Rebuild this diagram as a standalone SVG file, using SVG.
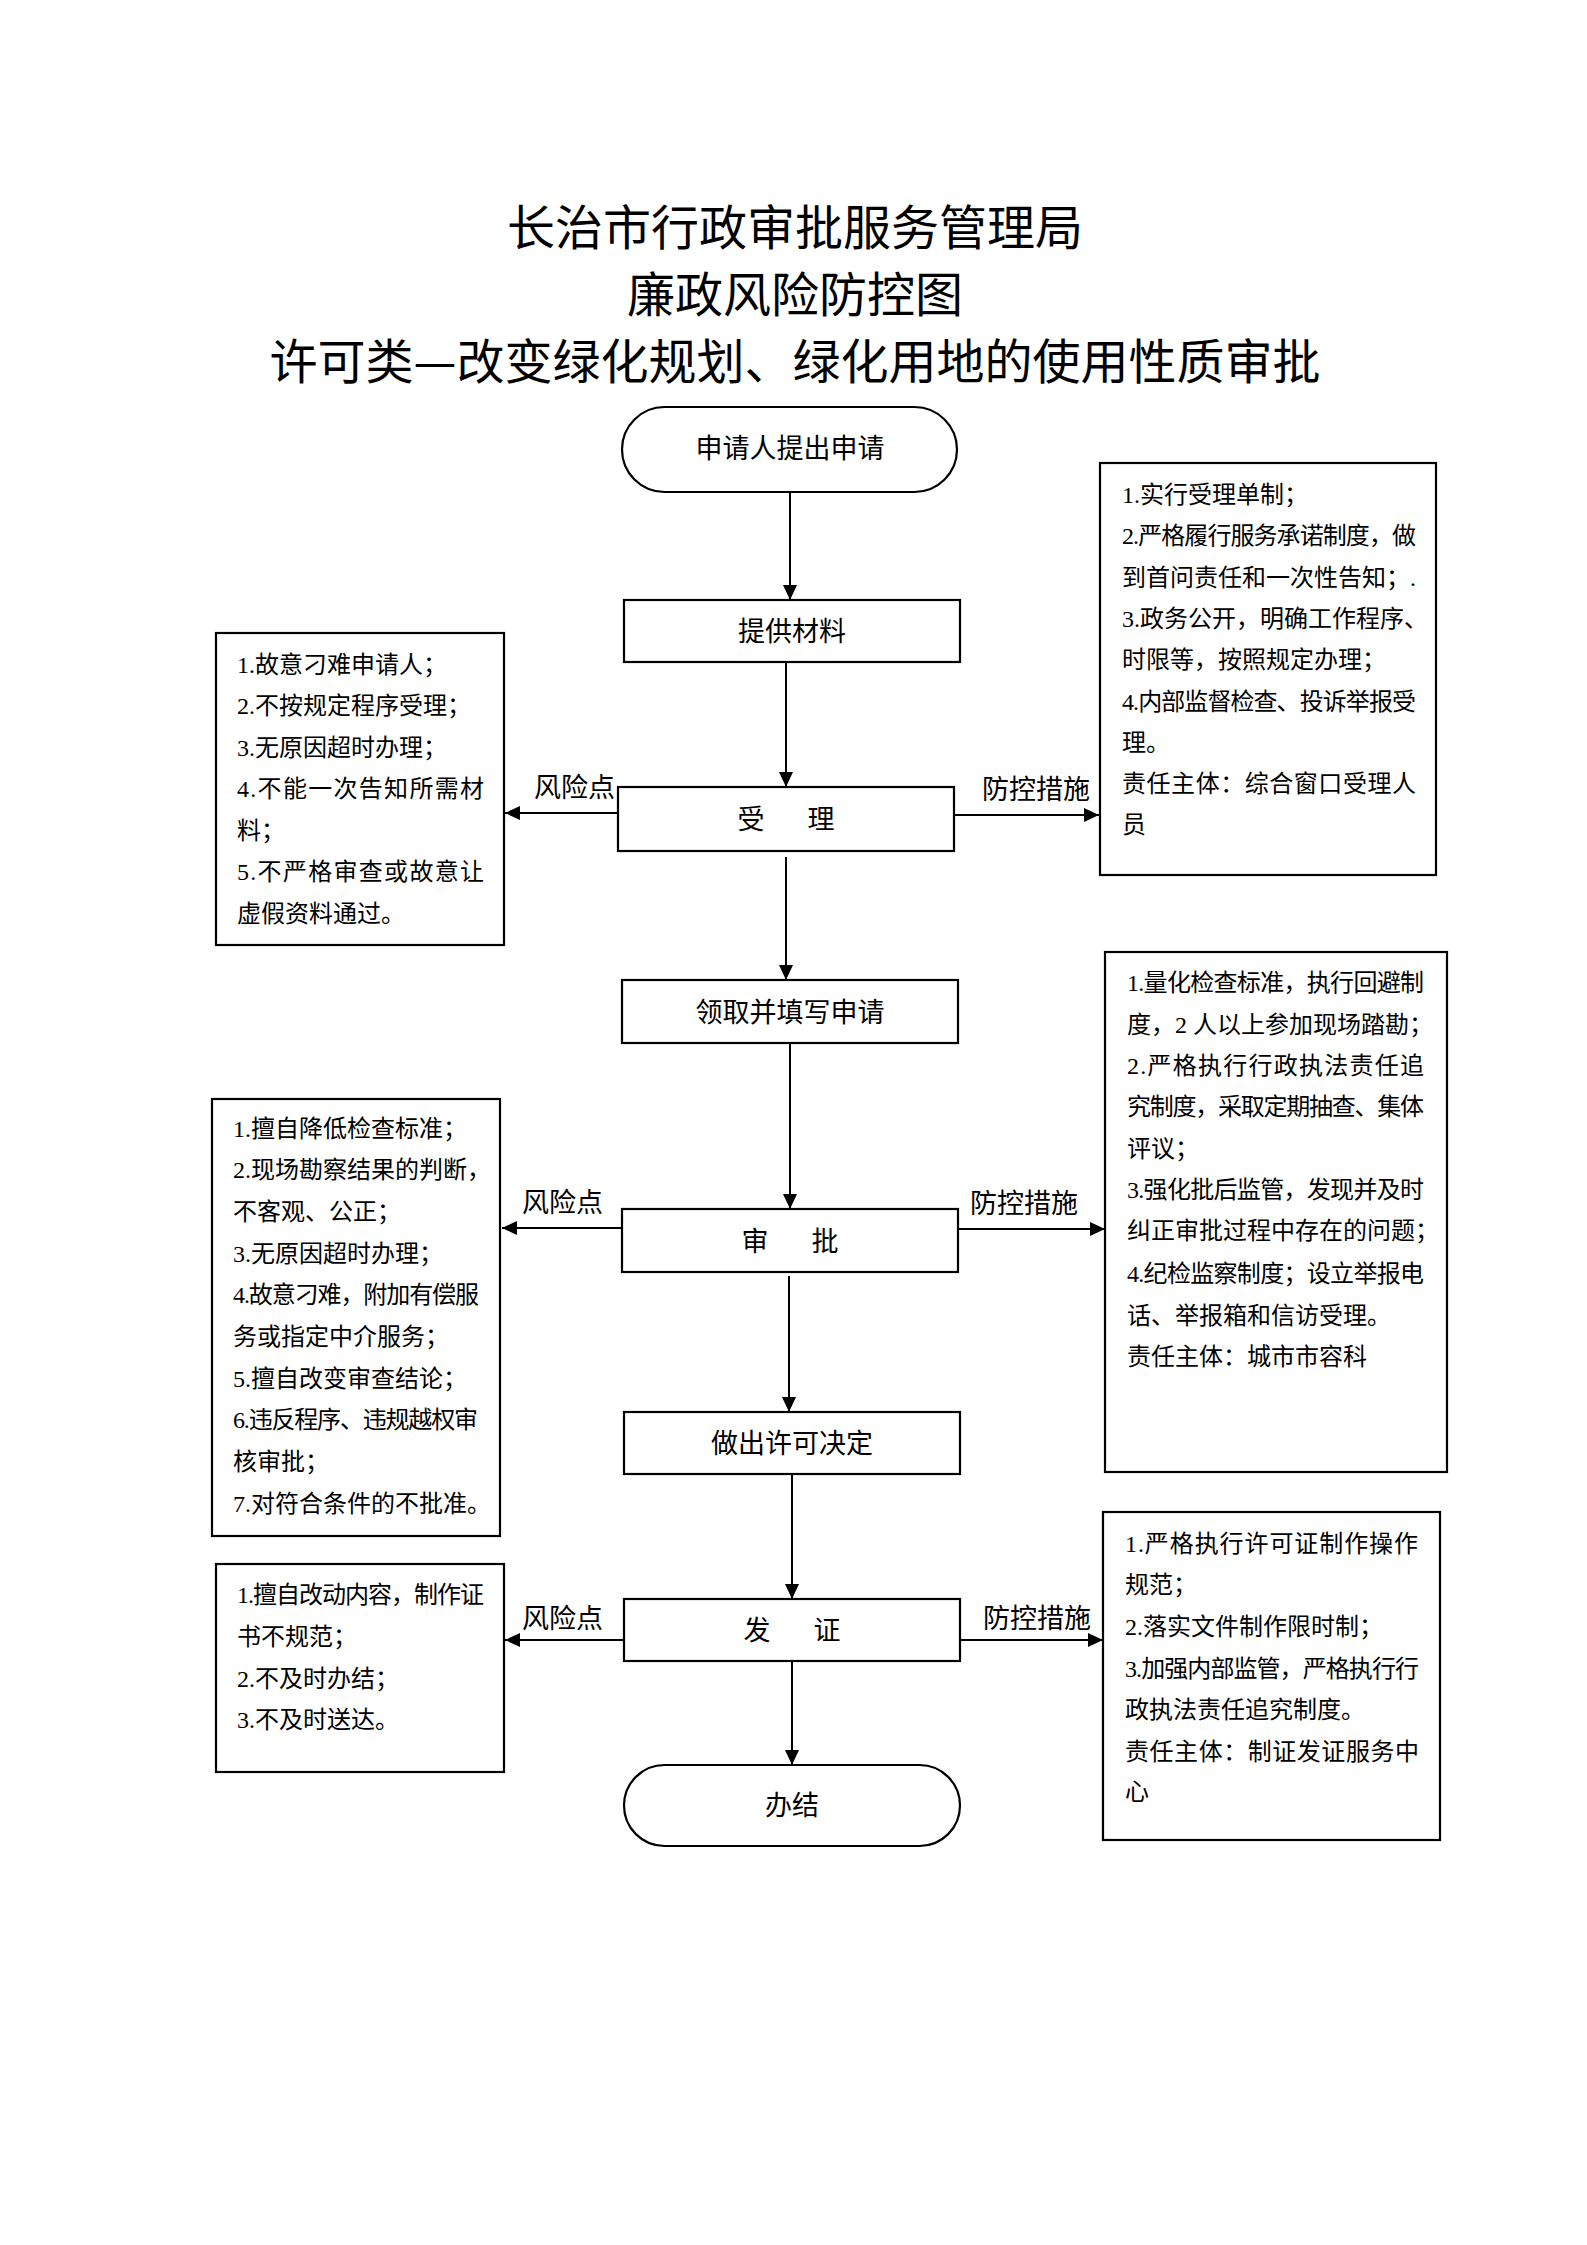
<svg xmlns="http://www.w3.org/2000/svg" width="1587" height="2245" viewBox="0 0 1587 2245">
<style>
.bg{fill:#ffffff}
.title{font-family:"Noto Sans CJK SC","Liberation Sans",sans-serif;font-size:48px;fill:#000;text-anchor:middle}
.node{fill:#fff;stroke:#000;stroke-width:2.2}
.ntext{font-family:"Liberation Serif","Noto Sans CJK SC",serif;font-size:27px;fill:#000;text-anchor:middle}
.btext{font-family:"Liberation Serif","Noto Sans CJK SC",serif;font-size:24px;fill:#000}
.lbl{font-family:"Noto Sans CJK SC","Liberation Sans",sans-serif;font-size:27px;fill:#000}
.conn{stroke:#000;stroke-width:2;fill:none;marker-end:url(#arr)}
</style>
<defs>
<marker id="arr" markerUnits="userSpaceOnUse" markerWidth="16" markerHeight="16" refX="15" refY="7" orient="auto">
<path d="M0,0 L15,7 L0,14 z" fill="#000"/>
</marker>
</defs>
<rect class="bg" x="0" y="0" width="1587" height="2245"/>

<g id="title">
<text class="title" x="795" y="245">长治市行政审批服务管理局</text>
<text class="title" x="795" y="312">廉政风险防控图</text>
<text class="title" x="795" y="379">许可类—改变绿化规划、绿化用地的使用性质审批</text>
</g>

<g id="connectors">
<line class="conn" x1="790" y1="492" x2="790" y2="600"/>
<line class="conn" x1="786" y1="662" x2="786" y2="787"/>
<line class="conn" x1="786" y1="857" x2="786" y2="980"/>
<line class="conn" x1="790" y1="1043" x2="790" y2="1209"/>
<line class="conn" x1="789" y1="1276" x2="789" y2="1412"/>
<line class="conn" x1="792" y1="1474" x2="792" y2="1599"/>
<line class="conn" x1="792" y1="1661" x2="792" y2="1765"/>
<line class="conn" x1="618" y1="813" x2="505" y2="813"/>
<line class="conn" x1="954" y1="815" x2="1099" y2="815"/>
<line class="conn" x1="622" y1="1228" x2="502" y2="1228"/>
<line class="conn" x1="958" y1="1229" x2="1105" y2="1229"/>
<line class="conn" x1="624" y1="1640" x2="505" y2="1640"/>
<line class="conn" x1="960" y1="1640" x2="1103" y2="1640"/>
<text class="lbl" x="534" y="797">风险点</text>
<text class="lbl" x="982" y="799">防控措施</text>
<text class="lbl" x="522" y="1212">风险点</text>
<text class="lbl" x="970" y="1213">防控措施</text>
<text class="lbl" x="522" y="1628">风险点</text>
<text class="lbl" x="983" y="1628">防控措施</text>
</g>

<g id="n-start">
<rect class="node" x="622" y="407" width="335" height="85" rx="42.5" ry="42.5"/>
<text class="ntext" x="790" y="458">申请人提出申请</text>
</g>
<g id="n-material">
<rect class="node" x="624" y="600" width="336" height="62"/>
<text class="ntext" x="792" y="641">提供材料</text>
</g>
<g id="n-accept">
<rect class="node" x="618" y="787" width="336" height="64"/>
<text class="ntext" x="751" y="829">受</text>
<text class="ntext" x="821" y="829">理</text>
</g>
<g id="n-apply">
<rect class="node" x="622" y="980" width="336" height="63"/>
<text class="ntext" x="790" y="1022">领取并填写申请</text>
</g>
<g id="n-review">
<rect class="node" x="622" y="1209" width="336" height="63"/>
<text class="ntext" x="755" y="1251">审</text>
<text class="ntext" x="825" y="1251">批</text>
</g>
<g id="n-decide">
<rect class="node" x="624" y="1412" width="336" height="62"/>
<text class="ntext" x="792" y="1453">做出许可决定</text>
</g>
<g id="n-issue">
<rect class="node" x="624" y="1599" width="336" height="62"/>
<text class="ntext" x="757" y="1640">发</text>
<text class="ntext" x="827" y="1640">证</text>
</g>
<g id="n-end">
<rect class="node" x="624" y="1765" width="336" height="81" rx="40.5" ry="40.5"/>
<text class="ntext" x="792" y="1815">办结</text>
</g>

<g id="risk-accept">
<rect class="node" x="216" y="633" width="288" height="312"/>
<text class="btext" x="237" y="673">1.故意刁难申请人；</text>
<text class="btext" x="237" y="714">2.不按规定程序受理；</text>
<text class="btext" x="237" y="756">3.无原因超时办理；</text>
<text class="btext" x="237" y="797" textLength="247" lengthAdjust="spacing">4.不能一次告知所需材</text>
<text class="btext" x="237" y="839">料；</text>
<text class="btext" x="237" y="880" textLength="247" lengthAdjust="spacing">5.不严格审查或故意让</text>
<text class="btext" x="237" y="922">虚假资料通过。</text>
</g>

<g id="ctrl-accept">
<rect class="node" x="1100" y="463" width="336" height="412"/>
<text class="btext" x="1122" y="503">1.实行受理单制；</text>
<text class="btext" x="1122" y="544" textLength="294" lengthAdjust="spacing">2.严格履行服务承诺制度，做</text>
<text class="btext" x="1122" y="586">到首问责任和一次性告知；.</text>
<text class="btext" x="1122" y="627">3.政务公开，明确工作程序、</text>
<text class="btext" x="1122" y="668">时限等，按照规定办理；</text>
<text class="btext" x="1122" y="710" textLength="294" lengthAdjust="spacing">4.内部监督检查、投诉举报受</text>
<text class="btext" x="1122" y="751">理。</text>
<text class="btext" x="1122" y="792" textLength="294" lengthAdjust="spacing">责任主体：综合窗口受理人</text>
<text class="btext" x="1122" y="833">员</text>
</g>

<g id="risk-review">
<rect class="node" x="212" y="1099" width="288" height="437"/>
<text class="btext" x="233" y="1137">1.擅自降低检查标准；</text>
<text class="btext" x="233" y="1178">2.现场勘察结果的判断，</text>
<text class="btext" x="233" y="1220">不客观、公正；</text>
<text class="btext" x="233" y="1262">3.无原因超时办理；</text>
<text class="btext" x="233" y="1303" textLength="246" lengthAdjust="spacing">4.故意刁难，附加有偿服</text>
<text class="btext" x="233" y="1345">务或指定中介服务；</text>
<text class="btext" x="233" y="1387">5.擅自改变审查结论；</text>
<text class="btext" x="233" y="1428" textLength="245" lengthAdjust="spacing">6.违反程序、违规越权审</text>
<text class="btext" x="233" y="1470">核审批；</text>
<text class="btext" x="233" y="1512">7.对符合条件的不批准。</text>
</g>

<g id="ctrl-review">
<rect class="node" x="1105" y="952" width="342" height="520"/>
<text class="btext" x="1127" y="991" textLength="297" lengthAdjust="spacing">1.量化检查标准，执行回避制</text>
<text class="btext" x="1127" y="1033">度，2 人以上参加现场踏勘；</text>
<text class="btext" x="1127" y="1074" textLength="297" lengthAdjust="spacing">2.严格执行行政执法责任追</text>
<text class="btext" x="1127" y="1115" textLength="297" lengthAdjust="spacing">究制度，采取定期抽查、集体</text>
<text class="btext" x="1127" y="1157">评议；</text>
<text class="btext" x="1127" y="1198" textLength="297" lengthAdjust="spacing">3.强化批后监管，发现并及时</text>
<text class="btext" x="1127" y="1239">纠正审批过程中存在的问题；</text>
<text class="btext" x="1127" y="1282" textLength="297" lengthAdjust="spacing">4.纪检监察制度；设立举报电</text>
<text class="btext" x="1127" y="1324">话、举报箱和信访受理。</text>
<text class="btext" x="1127" y="1365">责任主体：城市市容科</text>
</g>

<g id="risk-issue">
<rect class="node" x="216" y="1564" width="288" height="208"/>
<text class="btext" x="237" y="1603" textLength="247" lengthAdjust="spacing">1.擅自改动内容，制作证</text>
<text class="btext" x="237" y="1645">书不规范；</text>
<text class="btext" x="237" y="1687">2.不及时办结；</text>
<text class="btext" x="237" y="1728">3.不及时送达。</text>
</g>

<g id="ctrl-issue">
<rect class="node" x="1103" y="1512" width="337" height="328"/>
<text class="btext" x="1125" y="1552" textLength="293" lengthAdjust="spacing">1.严格执行许可证制作操作</text>
<text class="btext" x="1125" y="1593">规范；</text>
<text class="btext" x="1125" y="1635">2.落实文件制作限时制；</text>
<text class="btext" x="1125" y="1677" textLength="294" lengthAdjust="spacing">3.加强内部监管，严格执行行</text>
<text class="btext" x="1125" y="1718">政执法责任追究制度。</text>
<text class="btext" x="1125" y="1760" textLength="294" lengthAdjust="spacing">责任主体：制证发证服务中</text>
<text class="btext" x="1125" y="1800">心</text>
</g>
</svg>
